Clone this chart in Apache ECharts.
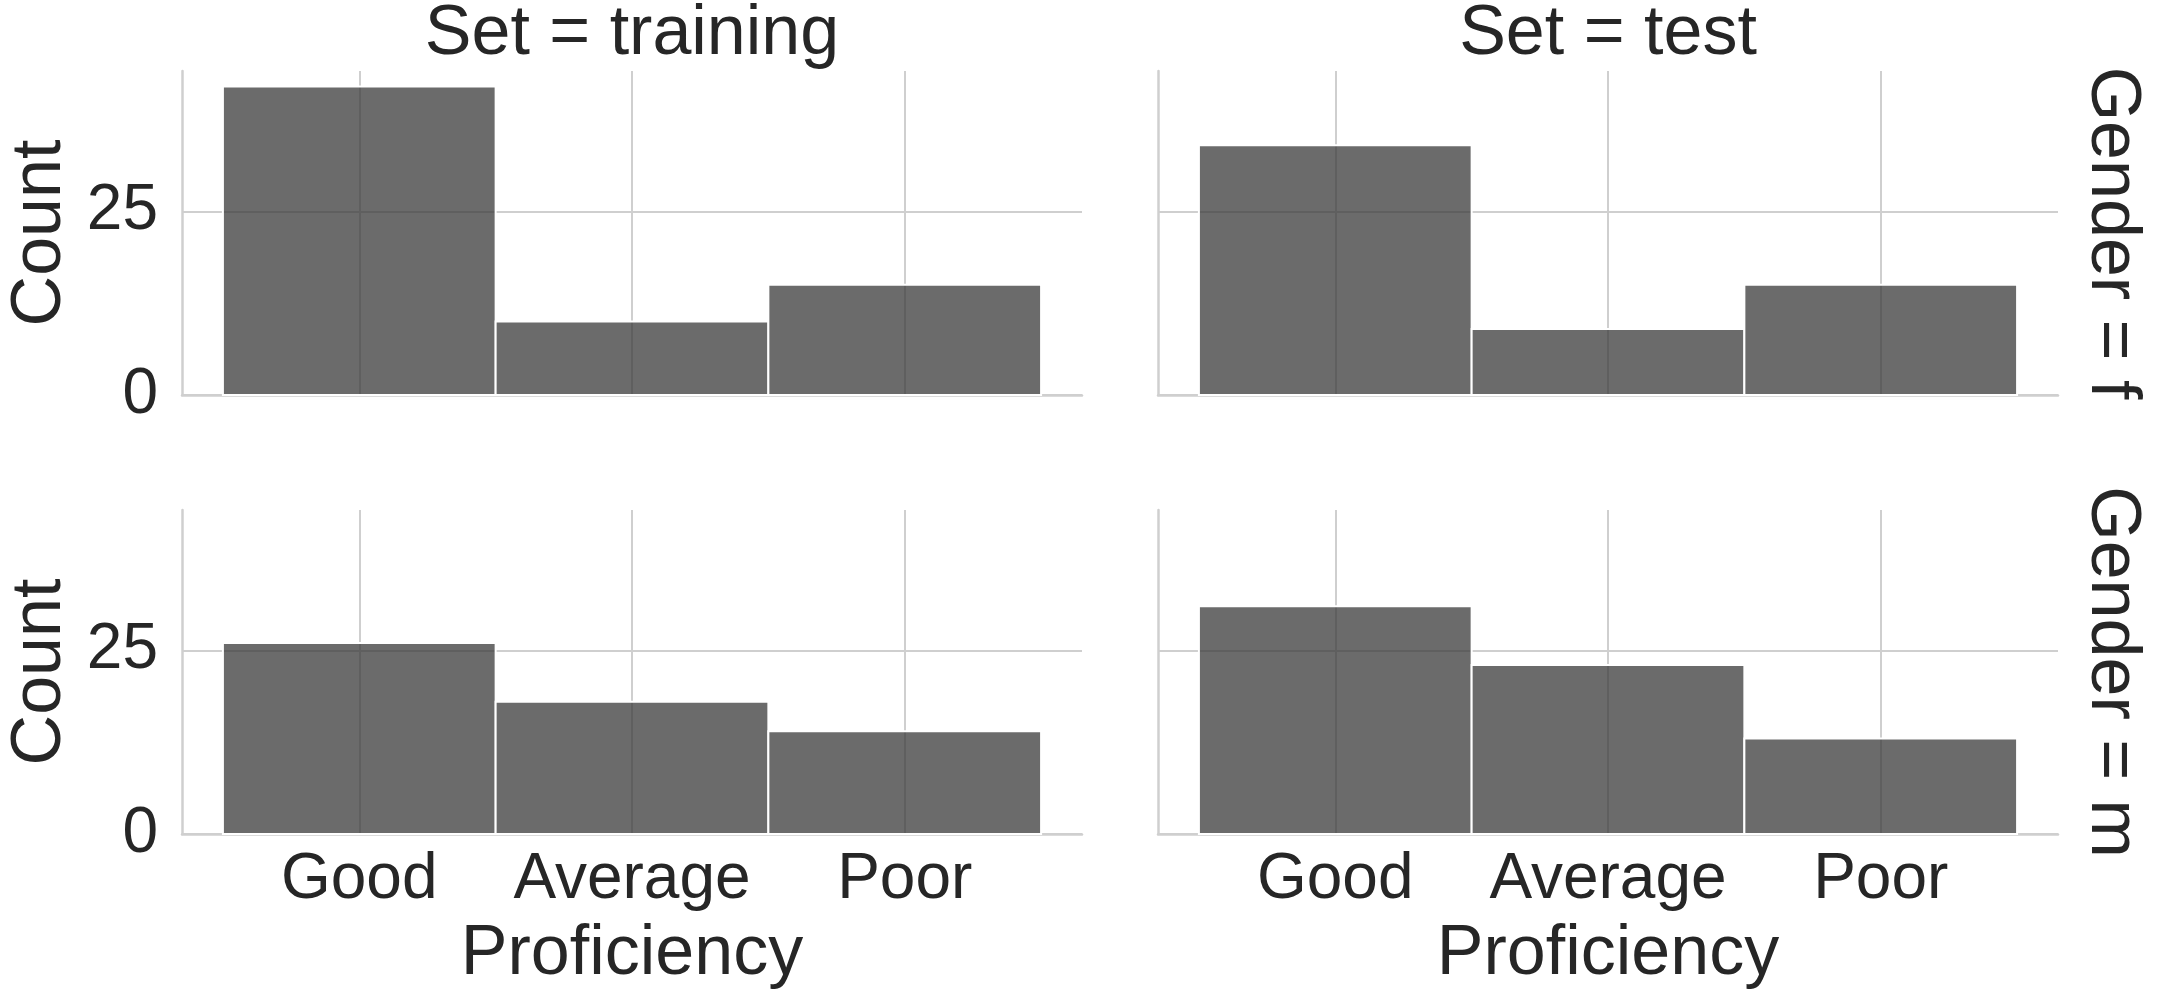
<!DOCTYPE html>
<html>
<head>
<meta charset="utf-8">
<script src="https://cdn.jsdelivr.net/npm/echarts@6/dist/echarts.min.js"></script>
<style>
  html, body { margin: 0; padding: 0; background: #ffffff; }
  #chart { width: 2163px; height: 1004px; }
</style>
</head>
<body>
<div id="chart"></div>
<script>
// ---- data ----
const categories = ['Good', 'Average', 'Poor'];
const setNames = ['training', 'test'];
const genderNames = ['f', 'm'];
const trainingF = [42, 10, 15];
const testF = [34, 9, 15];
const trainingM = [26, 18, 14];
const testM = [31, 23, 13];
const yTicks = [0, 25];
const xTicks = [0, 1, 2];
const yMax = 44.1;

const panelValues = [
  [trainingF, testF],
  [trainingM, testM]
];

// ---- layout ----
const FONT = 'Liberation Sans, Arial, sans-serif';
const TEXT = '#262626';
const GRIDC = '#cfcfcf';
const colLeft = [182, 1158];
const colWidth = 900;
const rowTop = [71, 510];
const rowHeight = 324;

const grids = [], xAxes = [], yAxes = [], series = [];
let idx = 0;
for (let r = 0; r < 2; r++) {
  for (let c = 0; c < 2; c++) {
    grids.push({ left: colLeft[c], top: rowTop[r], width: colWidth, height: rowHeight, containLabel: false });
    xAxes.push({
      type: 'value', gridIndex: idx, min: -0.65, max: 2.65,
      axisLine: { show: true, onZero: false, lineStyle: { color: GRIDC, width: 2.5 } },
      axisTick: { show: false, customValues: xTicks },
      axisLabel: {
        show: r === 1, customValues: xTicks, margin: 14,
        fontSize: 64, fontFamily: FONT, color: TEXT,
        formatter: v => categories[Math.round(v)]
      },
      splitLine: { show: true, lineStyle: { color: GRIDC, width: 2 } },
      name: r === 1 ? 'Proficiency' : '',
      nameLocation: 'middle', nameGap: 86,
      nameTextStyle: { fontSize: 70, fontFamily: FONT, color: TEXT }
    });
    yAxes.push({
      type: 'value', gridIndex: idx, min: 0, max: yMax,
      axisLine: { show: true, onZero: false, lineStyle: { color: GRIDC, width: 2.5 } },
      axisTick: { show: false, customValues: yTicks },
      axisLabel: {
        show: c === 0, customValues: yTicks, margin: 24,
        fontSize: 64, fontFamily: FONT, color: TEXT
      },
      splitLine: { show: true, lineStyle: { color: GRIDC, width: 2 } },
      name: c === 0 ? 'Count' : '',
      nameLocation: 'middle', nameGap: 106, nameRotate: 90,
      nameTextStyle: { fontSize: 70, fontFamily: FONT, color: TEXT }
    });
    const vals = panelValues[r][c];
    series.push({
      type: 'custom', xAxisIndex: idx, yAxisIndex: idx, clip: false,
      data: vals.map((v, i) => [i, v]),
      encode: { x: 0, y: 1 },
      renderItem: function (params, api) {
        const x = api.value(0), y = api.value(1);
        const p0 = api.coord([x - 0.5, y]);
        const p1 = api.coord([x + 0.5, 0]);
        return {
          type: 'rect',
          shape: { x: p0[0], y: p0[1], width: p1[0] - p0[0], height: p1[1] - p0[1] },
          style: { fill: 'rgba(58,58,58,0.75)', stroke: '#ffffff', lineWidth: 2 }
        };
      }
    });
    idx++;
  }
}

const graphics = [];
for (let c = 0; c < 2; c++) {
  graphics.push({
    type: 'text', x: colLeft[c] + colWidth / 2, y: 35,
    style: { text: 'Set = ' + setNames[c], font: '70px ' + FONT, fill: TEXT, textAlign: 'center', textVerticalAlign: 'middle' }
  });
}
for (let r = 0; r < 2; r++) {
  graphics.push({
    type: 'text', x: 2111, y: rowTop[r] + rowHeight / 2, rotation: -Math.PI / 2,
    style: { text: 'Gender = ' + genderNames[r], font: '70px ' + FONT, fill: TEXT, textAlign: 'center', textVerticalAlign: 'middle' }
  });
}

const chart = echarts.init(document.getElementById('chart'), null, { renderer: 'canvas' });
chart.setOption({
  backgroundColor: '#ffffff',
  animation: false,
  grid: grids,
  xAxis: xAxes,
  yAxis: yAxes,
  series: series,
  graphic: graphics
});
</script>
</body>
</html>
